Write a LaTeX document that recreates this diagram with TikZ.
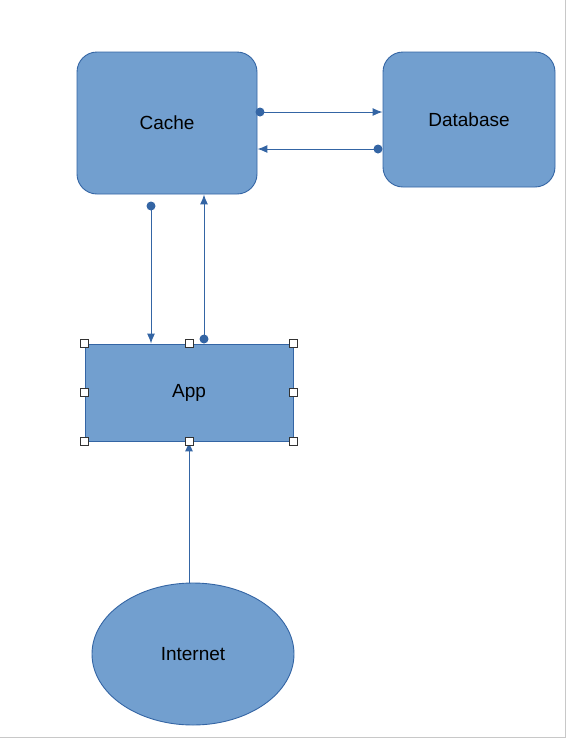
\documentclass[tikz,border=0pt]{standalone}
\usepackage{fontspec}
\setmainfont{Liberation Sans}
\usetikzlibrary{shapes.geometric,arrows.meta,calc}
\definecolor{boxfill}{HTML}{729FCF}
\definecolor{boxline}{HTML}{3465A4}
\definecolor{pageline}{HTML}{C8C8C8}
\tikzset{
  box/.style={draw=boxline, fill=boxfill, line width=0.9pt, inner sep=0pt, font=\fontsize{19}{21}\selectfont},
  rbox/.style={box, rectangle, rounded corners=20pt},
  conn/.style={draw=boxline, line width=1pt, -{Latex[length=10pt,width=8pt]}},
  dot/.style={circle, fill=boxline, inner sep=0pt, minimum size=9pt},
  handle/.style={draw=black!80, fill=white, line width=0.8pt, inner sep=0pt, minimum size=8pt, rectangle},
}
\begin{document}
\begin{tikzpicture}[x=1pt,y=-1pt]
\useasboundingbox (0,0) rectangle (568,740);
\draw[pageline, line width=1pt] (565,0) -- (565,737) -- (0,737);

\node[rbox, minimum width=180pt, minimum height=142pt] (cache) at (167,123) {Cache};
\node[rbox, minimum width=172pt, minimum height=135pt] (db) at (469,119.5) {Database};
\node[box, rectangle, minimum width=208pt, minimum height=97pt] (app) at (189,392.5) {App};
\node[box, ellipse, minimum width=202pt, minimum height=142pt] (inet) at (193,654) {Internet};

% Cache -> Database
\coordinate (c1) at (260,112);
\draw[conn] (c1) -- (c1 -| db.west);
\node[dot] (d1) at (c1) {};
% Database -> Cache
\coordinate (c2) at (378,149);
\draw[conn] (c2) -- (c2 -| cache.east);
\node[dot] (d2) at (c2) {};
% Cache -> App
\coordinate (c3) at (151,206);
\draw[conn] (c3) -- (c3 |- app.north);
\node[dot] (d3) at (c3) {};
% App -> Cache
\coordinate (c4) at (204,339);
\draw[conn] (c4) -- (c4 |- cache.south);
\node[dot] (d4) at (c4) {};
% Internet -> App
\draw[conn] (app.south |- inet.north) -- (app.south);

% selection handles
\foreach \a in {north west,north,north east,west,east,south west,south,south east}
  \node[handle] at (app.\a) {};
\end{tikzpicture}
\end{document}
